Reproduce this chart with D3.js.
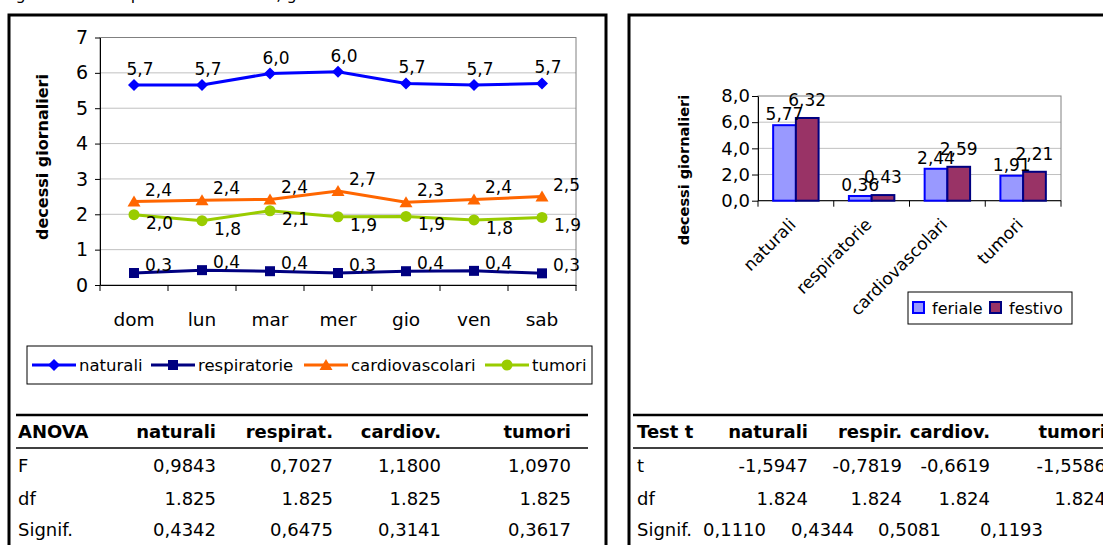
<!DOCTYPE html>
<html>
<head>
<meta charset="utf-8">
<script src="https://cdn.jsdelivr.net/npm/d3@7"></script>
<style>
  body { margin: 0; background: #fff; }
  svg { display: block; font-family: "DejaVu Sans", Verdana, sans-serif; }
</style>
</head>
<body>
<svg id="fig" width="1103" height="545"></svg>
<script>
// ---- daily means by weekday ----
const giorni = ["dom", "lun", "mar", "mer", "gio", "ven", "sab"];
const naturali = [5.66, 5.66, 5.98, 6.03, 5.70, 5.66, 5.70];
const respiratorie = [0.34, 0.42, 0.39, 0.34, 0.39, 0.40, 0.33];
const cardiovascolari = [2.36, 2.40, 2.42, 2.66, 2.34, 2.42, 2.50];
const tumori = [1.99, 1.82, 2.10, 1.93, 1.94, 1.84, 1.91];
const lineTicks = [0, 1, 2, 3, 4, 5, 6, 7];

// ---- weekday vs holiday means ----
const cause = ["naturali", "respiratorie", "cardiovascolari", "tumori"];
const gruppi = ["feriale", "festivo"];
const feriale = [5.77, 0.36, 2.44, 1.91];
const festivo = [6.32, 0.43, 2.59, 2.21];
const barTicks = [0, 2, 4, 6, 8];

// ---- statistical tests ----
const anovaHead = ["ANOVA", "naturali", "respirat.", "cardiov.", "tumori"];
const anovaRows = [
  ["F", "0,9843", "0,7027", "1,1800", "1,0970"],
  ["df", "1.825", "1.825", "1.825", "1.825"],
  ["Signif.", "0,4342", "0,6475", "0,3141", "0,3617"]
];
const ttestHead = ["Test t", "naturali", "respir.", "cardiov.", "tumori"];
const ttestRows = [
  ["t", "-1,5947", "-0,7819", "-0,6619", "-1,5586"],
  ["df", "1.824", "1.824", "1.824", "1.824"],
  ["Signif.", "0,1110", "0,4344", "0,5081", "0,1193"]
];

const caption = "Figura 3. Medie per causa e orario, giorno della settimana";

const svg = d3.select("#fig");
svg.append("rect").attr("width", 1103).attr("height", 545).attr("fill", "#fff");

const it1 = v => d3.format(".1f")(v).replace(".", ",");
const it2 = v => d3.format(".2f")(v).replace(".", ",");

// caption line, clipped by the top of the page
svg.append("text").attr("x", 3).attr("y", -0.5).attr("font-size", 16).text(caption);

// panel frames
svg.append("rect").attr("x", 9).attr("y", 15).attr("width", 597).attr("height", 600)
  .attr("fill", "none").attr("stroke", "#000").attr("stroke-width", 3);
svg.append("rect").attr("x", 629).attr("y", 15).attr("width", 600).attr("height", 600)
  .attr("fill", "none").attr("stroke", "#000").attr("stroke-width", 3);

// ================= line chart =================
const lc = svg.append("g");
const xL = d3.scaleBand().domain(giorni).range([100, 576]);
const yL = d3.scaleLinear().domain([0, 7]).range([285, 37.5]);

lc.append("g").selectAll("line").data(lineTicks.slice(1, -1)).join("line")
  .attr("x1", 100).attr("x2", 576).attr("y1", d => yL(d)).attr("y2", d => yL(d))
  .attr("stroke", "#c0c0c0").attr("stroke-width", 1);
lc.append("rect").attr("x", 100).attr("y", yL(7)).attr("width", 476).attr("height", yL(0) - yL(7))
  .attr("fill", "none").attr("stroke", "#808080").attr("stroke-width", 1);

const yAxL = lc.append("g").attr("transform", "translate(100,0)")
  .call(d3.axisLeft(yL).tickValues(lineTicks).tickFormat(d3.format("d")).tickSize(5).tickPadding(7).tickSizeOuter(0));
yAxL.select(".domain").attr("stroke", "#000");
yAxL.selectAll("text").attr("font-size", 19).attr("font-family", "DejaVu Sans").attr("fill", "#000");

const xAxL = lc.append("g").attr("transform", "translate(0,285)")
  .call(d3.axisBottom(xL).tickSize(0).tickPadding(28));
xAxL.select(".domain").attr("stroke", "#000");
xAxL.selectAll("text").attr("font-size", 18.5).attr("font-family", "DejaVu Sans").attr("fill", "#000");
lc.append("g").selectAll("line").data(giorni.map(d => xL(d)).concat([xL.range()[1]])).join("line")
  .attr("x1", d => d).attr("x2", d => d).attr("y1", 285).attr("y2", 291).attr("stroke", "#000");

lc.append("text").attr("transform", "translate(48,157) rotate(-90)")
  .attr("text-anchor", "middle").attr("font-size", 16).attr("font-weight", "bold").text("decessi giornalieri");

const markers = {
  diamond: "M0,-6L6,0L0,6L-6,0Z",
  square: "M-5,-5H5V5H-5Z",
  triangle: "M0,-6L6.5,5L-6.5,5Z",
  circle: d3.symbol(d3.symbolCircle, 95)()
};

const serie = [
  { name: "naturali", values: naturali, color: "#0000ff", marker: "diamond", anchor: "middle", dx: 6, dy: -10 },
  { name: "respiratorie", values: respiratorie, color: "#000080", marker: "square", anchor: "start", dx: 11, dy: -2 },
  { name: "cardiovascolari", values: cardiovascolari, color: "#ff6600", marker: "triangle", anchor: "start", dx: 11, dy: -6 },
  { name: "tumori", values: tumori, color: "#99cc00", marker: "circle", anchor: "start", dx: 12, dy: 14 }
];
const cx = d => xL(d) + xL.bandwidth() / 2;
const line = d3.line().x((v, i) => cx(giorni[i])).y(v => yL(v));

serie.forEach(s => {
  lc.append("path").attr("d", line(s.values)).attr("fill", "none")
    .attr("stroke", s.color).attr("stroke-width", 3);
  lc.append("g").selectAll("path").data(s.values).join("path")
    .attr("d", markers[s.marker])
    .attr("transform", (v, i) => `translate(${cx(giorni[i])},${yL(v)})`)
    .attr("fill", s.color);
  lc.append("g").selectAll("text").data(s.values).join("text")
    .attr("x", (v, i) => cx(giorni[i]) + s.dx).attr("y", v => yL(v) + s.dy)
    .attr("text-anchor", s.anchor).attr("font-size", 17).text(v => it1(v));
});

// legend of the line chart
const lg = svg.append("g");
lg.append("rect").attr("x", 27).attr("y", 346).attr("width", 565).attr("height", 38)
  .attr("fill", "#fff").attr("stroke", "#000").attr("stroke-width", 1);
const legX = [32, 151, 304, 485];
serie.forEach((s, i) => {
  const x0 = legX[i];
  lg.append("line").attr("x1", x0).attr("x2", x0 + 44).attr("y1", 365).attr("y2", 365)
    .attr("stroke", s.color).attr("stroke-width", 3);
  lg.append("path").attr("d", markers[s.marker]).attr("transform", `translate(${x0 + 22},365)`).attr("fill", s.color);
  lg.append("text").attr("x", x0 + 47).attr("y", 371).attr("font-size", 16.5).text(s.name);
});

// ================= bar chart =================
const bc = svg.append("g");
const xB = d3.scaleBand().domain(cause).range([758, 1061]);
const bw = xB.bandwidth();
const xG = d3.scaleBand().domain(gruppi).range([0.2 * bw, 0.8 * bw]);
const yB = d3.scaleLinear().domain([0, 8]).range([200.7, 96]);

bc.append("g").selectAll("line").data(barTicks.slice(1, -1)).join("line")
  .attr("x1", 758).attr("x2", 1061).attr("y1", d => yB(d)).attr("y2", d => yB(d))
  .attr("stroke", "#c0c0c0");
bc.append("rect").attr("x", 758).attr("y", yB(8)).attr("width", 303).attr("height", yB(0) - yB(8))
  .attr("fill", "none").attr("stroke", "#808080");

const yAxB = bc.append("g").attr("transform", "translate(758,0)")
  .call(d3.axisLeft(yB).tickValues(barTicks).tickFormat(it1).tickSize(6).tickPadding(2).tickSizeOuter(0));
yAxB.select(".domain").attr("stroke", "#000");
yAxB.selectAll("text").attr("font-size", 18).attr("font-family", "DejaVu Sans").attr("fill", "#000");

bc.append("line").attr("x1", 758).attr("x2", 1061).attr("y1", yB(0)).attr("y2", yB(0)).attr("stroke", "#000");
bc.append("g").selectAll("line").data(cause.map(d => xB(d)).concat([xB.range()[1]])).join("line")
  .attr("x1", d => d).attr("x2", d => d).attr("y1", yB(0)).attr("y2", yB(0) + 6).attr("stroke", "#000");

const barData = cause.flatMap((c, i) => [
  { c, g: "feriale", v: feriale[i] },
  { c, g: "festivo", v: festivo[i] }
]);
const fills = { feriale: "#9999ff", festivo: "#993366" };
const strokes = { feriale: "#0000ff", festivo: "#000080" };
const labelLift = { feriale: 5, festivo: 12 };

bc.append("g").selectAll("rect").data(barData).join("rect")
  .attr("x", d => xB(d.c) + xG(d.g)).attr("width", xG.bandwidth())
  .attr("y", d => yB(d.v)).attr("height", d => yB(0) - yB(d.v))
  .attr("fill", d => fills[d.g]).attr("stroke", d => strokes[d.g]).attr("stroke-width", 2);
bc.append("g").selectAll("text").data(barData).join("text")
  .attr("x", d => xB(d.c) + xG(d.g) + xG.bandwidth() / 2)
  .attr("y", d => yB(d.v) - labelLift[d.g])
  .attr("text-anchor", "middle").attr("font-size", 17).text(d => it2(d.v));

bc.append("g").selectAll("text").data(cause).join("text")
  .attr("transform", d => `translate(${xB(d) + bw / 2 + 1},${yB(0) + 25}) rotate(-45)`)
  .attr("text-anchor", "end").attr("font-size", 17).text(d => d);

bc.append("text").attr("transform", "translate(689,170) rotate(-90)")
  .attr("text-anchor", "middle").attr("font-size", 14.5).attr("font-weight", "bold").text("decessi giornalieri");

// legend of the bar chart
const lb = svg.append("g");
lb.append("rect").attr("x", 908).attr("y", 292).attr("width", 164).attr("height", 32)
  .attr("fill", "#fff").attr("stroke", "#000");
const legBX = [913, 990];
gruppi.forEach((g, i) => {
  lb.append("rect").attr("x", legBX[i]).attr("y", 302).attr("width", 11).attr("height", 11)
    .attr("fill", fills[g]).attr("stroke", strokes[g]).attr("stroke-width", 2);
  lb.append("text").attr("x", legBX[i] + 19).attr("y", 314).attr("font-size", 16).text(g);
});

// ================= tables =================
function table(x0, x1, labelX, headEnds, valEnds, head, rows) {
  const t = svg.append("g").attr("font-size", 18);
  t.append("line").attr("x1", x0).attr("x2", x1).attr("y1", 415).attr("y2", 415).attr("stroke", "#000").attr("stroke-width", 2.5);
  t.append("line").attr("x1", x0).attr("x2", x1).attr("y1", 448).attr("y2", 448).attr("stroke", "#000").attr("stroke-width", 1.5);
  t.append("text").attr("x", labelX).attr("y", 438).attr("font-weight", "bold").text(head[0]);
  head.slice(1).forEach((h, i) => t.append("text").attr("x", headEnds[i]).attr("y", 438)
    .attr("text-anchor", "end").attr("font-weight", "bold").text(h));
  const rowY = [472, 505, 536];
  rows.forEach((r, j) => {
    t.append("text").attr("x", labelX).attr("y", rowY[j]).text(r[0]);
    r.slice(1).forEach((v, i) => t.append("text").attr("x", valEnds[j][i]).attr("y", rowY[j])
      .attr("text-anchor", "end").text(v));
  });
}

table(16, 588, 18, [216, 333, 441, 571],
  [[216, 333, 441, 571], [216, 333, 441, 571], [216, 333, 441, 571]], anovaHead, anovaRows);
table(633, 1103, 637, [808, 902, 990, 1106],
  [[808, 902, 990, 1106], [808, 902, 990, 1106], [766, 854, 941, 1043]], ttestHead, ttestRows);
</script>
</body>
</html>
